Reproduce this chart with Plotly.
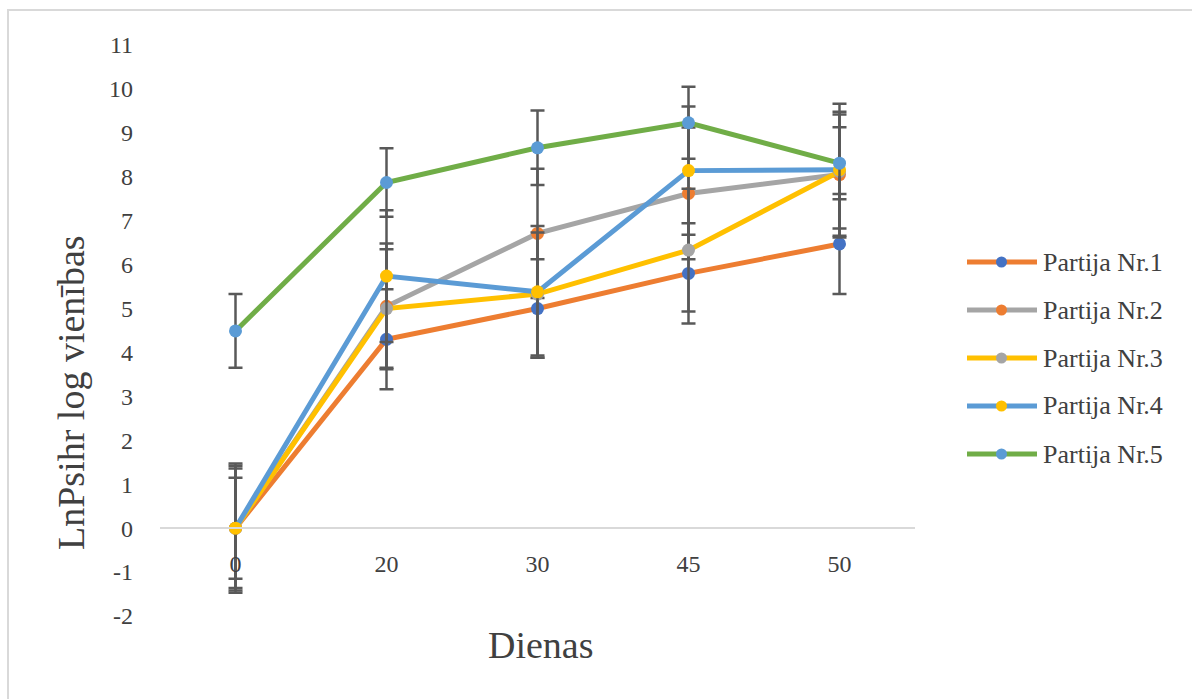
import plotly.graph_objects as go

# Sampling days (category axis)
days = ["0", "20", "30", "45", "50"]

# Mean values per batch
partija_1 = [0.0, 4.30, 5.00, 5.80, 6.47]
partija_2 = [0.0, 5.05, 6.71, 7.62, 8.05]
partija_3 = [0.0, 5.00, 5.33, 6.33, 8.12]
partija_4 = [0.0, 5.74, 5.38, 8.14, 8.16]
partija_5 = [4.49, 7.87, 8.66, 9.23, 8.31]

# Error bar half-widths per batch
err_1 = [1.15, 1.14, 1.12, 1.14, 1.14]
err_2 = [1.47, 1.43, 1.47, 1.50, 1.43]
err_3 = [1.36, 1.35, 1.40, 1.40, 1.30]
err_4 = [1.42, 1.50, 1.50, 1.46, 1.50]
err_5 = [0.84, 0.78, 0.85, 0.82, 0.82]

names = ["Partija Nr.1", "Partija Nr.2", "Partija Nr.3", "Partija Nr.4", "Partija Nr.5"]
values = [partija_1, partija_2, partija_3, partija_4, partija_5]
errors = [err_1, err_2, err_3, err_4, err_5]

line_colors = ["#ED7D31", "#A5A5A5", "#FFC000", "#5B9BD5", "#70AD47"]
marker_colors = ["#4472C4", "#ED7D31", "#A5A5A5", "#FFC000", "#5B9BD5"]

y_ticks = list(range(-2, 12))
y_tick_labels = [str(v) for v in y_ticks]

SERIF = "Liberation Serif, Times New Roman, serif"
TEXT = "#404040"

# Plot area geometry in pixels
W, H = 1192, 699
L, R, T, B = 160, 277, 45, 83
PW, PH = W - L - R, H - T - B


def px_x(px):
    return (px - L) / PW


def px_y(py):
    return (H - B - py) / PH


fig = go.Figure()

for name, vals, errs, lc, mc in zip(names, values, errors, line_colors, marker_colors):
    fig.add_trace(go.Scatter(
        x=days, y=vals, name=name, mode="lines+markers",
        line=dict(color=lc, width=5),
        marker=dict(color=mc, size=13, line=dict(width=0)),
        error_y=dict(type="data", array=errs, visible=True,
                     color="#595959", thickness=2.5, width=7),
        showlegend=False,
    ))

shapes = []
annotations = []

# Legend drawn at the right: long line sample with a centred marker
legend_rows = [262, 310, 358, 406, 454]
for name, lc, mc, ry in zip(names, line_colors, marker_colors, legend_rows):
    shapes.append(dict(type="line", xref="paper", yref="paper",
                       x0=px_x(967), x1=px_x(1037), y0=px_y(ry), y1=px_y(ry),
                       line=dict(color=lc, width=5)))
    shapes.append(dict(type="circle", xref="paper", yref="paper",
                       x0=px_x(996), x1=px_x(1007), y0=px_y(ry + 5.5), y1=px_y(ry - 5.5),
                       fillcolor=mc, line=dict(width=0)))
    annotations.append(dict(text=name, xref="paper", yref="paper",
                            x=px_x(1041), y=px_y(ry), xanchor="left", yanchor="middle",
                            showarrow=False,
                            font=dict(family=SERIF, size=26, color=TEXT)))

# Chart-area border
shapes.append(dict(type="rect", xref="paper", yref="paper",
                   x0=px_x(8), x1=px_x(1300), y0=px_y(800), y1=px_y(10),
                   line=dict(color="#D9D9D9", width=2), fillcolor="rgba(0,0,0,0)",
                   layer="below"))

# Axis titles
annotations.append(dict(text="Dienas", xref="paper", yref="paper",
                        x=px_x(541), y=px_y(645), xanchor="center", yanchor="middle",
                        showarrow=False,
                        font=dict(family=SERIF, size=38, color=TEXT)))
annotations.append(dict(text="LnPsihr log vienības", xref="paper", yref="paper",
                        x=px_x(71), y=px_y(393), xanchor="center", yanchor="middle",
                        textangle=-90, showarrow=False,
                        font=dict(family=SERIF, size=38, color=TEXT)))

y_min, y_max = -2, 11

fig.update_layout(
    width=W, height=H,
    margin=dict(l=L, r=R, t=T, b=B, pad=0),
    paper_bgcolor="white", plot_bgcolor="white",
    showlegend=False,
    shapes=shapes,
    annotations=annotations,
    xaxis=dict(
        type="category", range=[-0.5, 4.5],
        anchor="free", position=(0 - y_min) / (y_max - y_min),
        showline=True, linecolor="#D9D9D9", linewidth=1.5,
        showgrid=False, zeroline=False, ticks="",
        ticklabelstandoff=14,
        tickfont=dict(family=SERIF, size=24, color=TEXT),
    ),
    yaxis=dict(
        range=[y_min, y_max], tickvals=y_ticks, ticktext=y_tick_labels,
        showline=False, showgrid=False, zeroline=False, ticks="",
        ticklabelstandoff=26,
        tickfont=dict(family=SERIF, size=24, color=TEXT),
    ),
)

fig.write_html("out.html")
